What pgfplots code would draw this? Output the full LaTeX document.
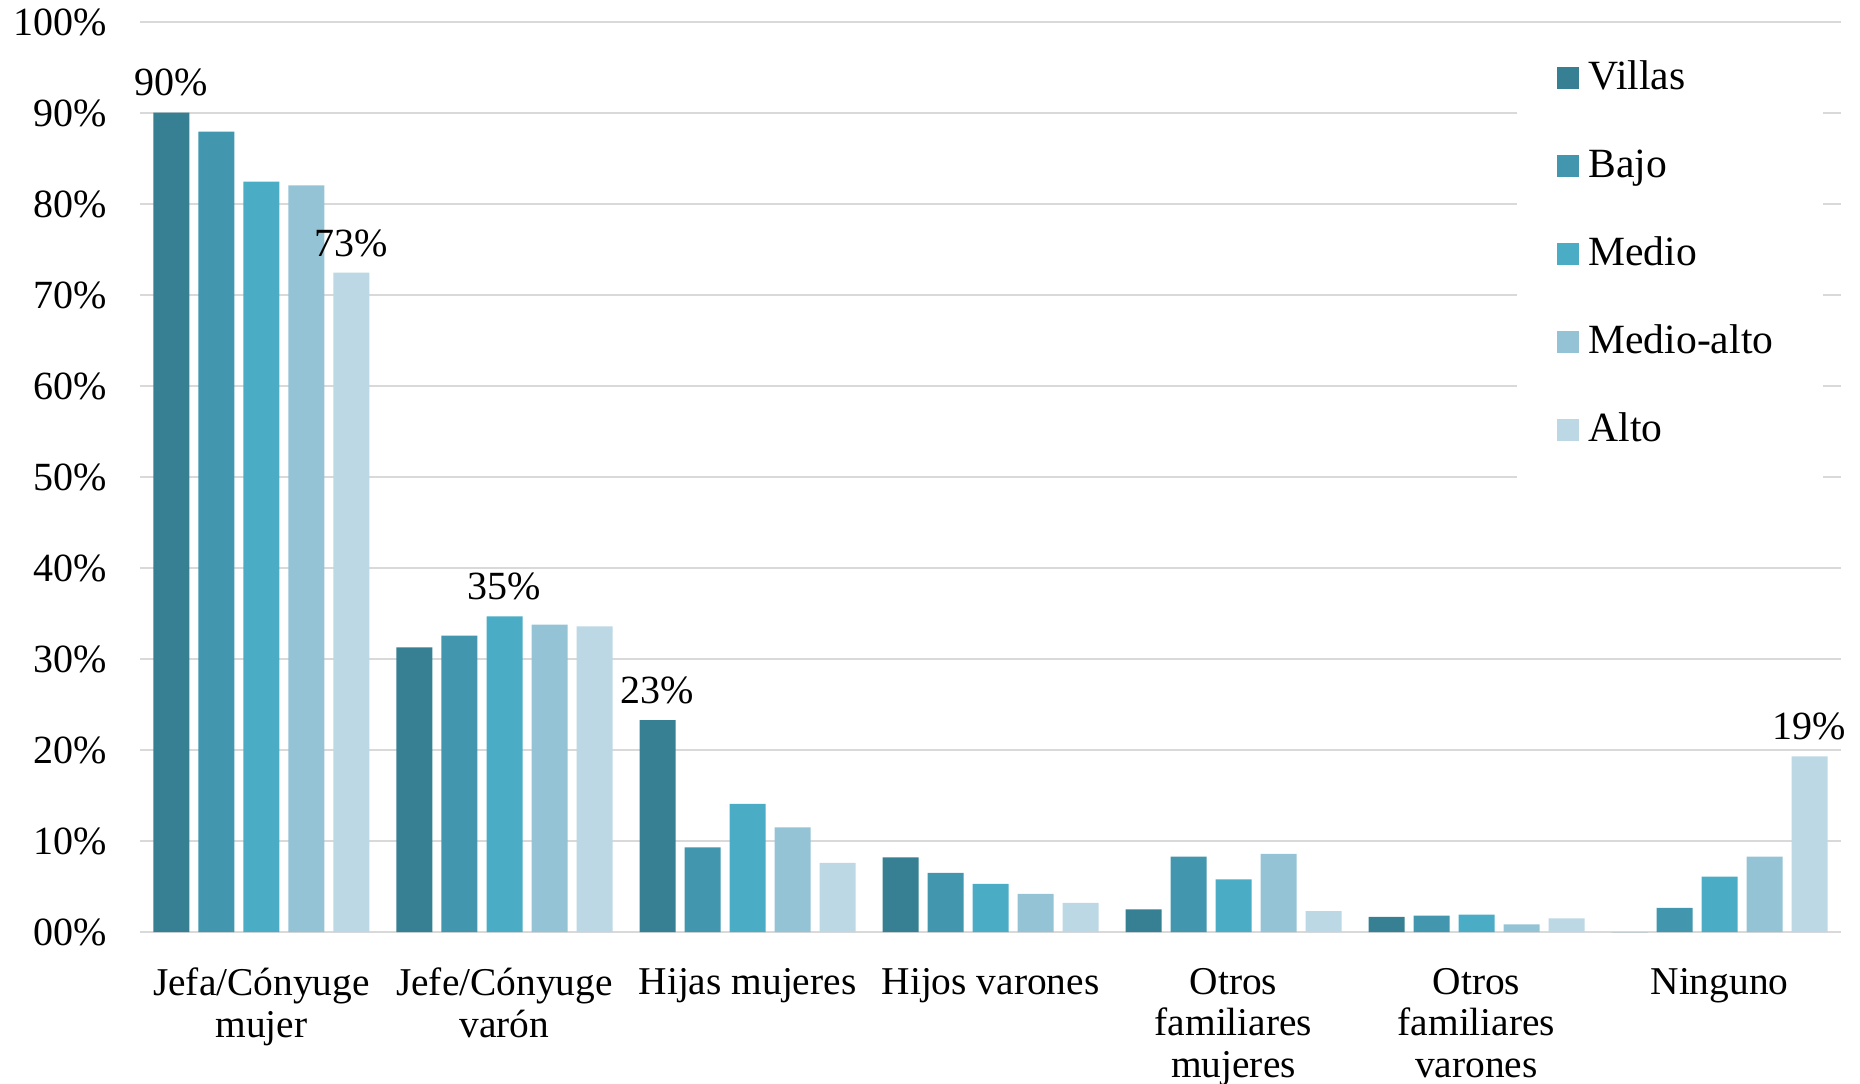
\documentclass[border=0pt]{standalone}
\usepackage{pgfplots}
\pgfplotsset{compat=1.18}
\usepackage{pgfplotstable}
\usepackage{fontspec}
\setmainfont{Liberation Serif}
\definecolor{cVillas}{HTML}{378093}
\definecolor{cBajo}{HTML}{4296AE}
\definecolor{cMedio}{HTML}{4BACC6}
\definecolor{cMalto}{HTML}{93C3D4}
\definecolor{cAlto}{HTML}{BCD8E4}
\definecolor{cGrid}{HTML}{D9D9D9}

\pgfplotstableread{
x y lab
0 90.1 {90\%}
1 31.3 {}
2 23.3 {23\%}
3 8.2 {}
4 2.5 {}
5 1.65 {}
6 0 {}
}\villas
\pgfplotstableread{
x y lab
0 88.0 {}
1 32.6 {}
2 9.3 {}
3 6.5 {}
4 8.3 {}
5 1.8 {}
6 2.65 {}
}\bajo
\pgfplotstableread{
x y lab
0 82.5 {}
1 34.7 {35\%}
2 14.1 {}
3 5.3 {}
4 5.8 {}
5 1.9 {}
6 6.1 {}
}\medio
\pgfplotstableread{
x y lab
0 82.1 {}
1 33.8 {}
2 11.5 {}
3 4.2 {}
4 8.6 {}
5 0.85 {}
6 8.3 {}
}\medioalto
\pgfplotstableread{
x y lab
0 72.5 {73\%}
1 33.6 {}
2 7.6 {}
3 3.2 {}
4 2.3 {}
5 1.5 {}
6 19.3 {19\%}
}\alto

\begin{document}
\begin{tikzpicture}
\begin{axis}[
  name=main,
  at={(0,0)}, anchor=south west,
  width=850.5pt, height=454.75pt, scale only axis,
  ybar=4.5pt, bar width=18pt,
  xmin=-0.5, xmax=6.5, ymin=0, ymax=100,
  axis line style={draw=none},
  ymajorgrids, grid style={cGrid, line width=1pt},
  ytick={0,10,...,100},
  yticklabels={00\%,10\%,20\%,30\%,40\%,50\%,60\%,70\%,80\%,90\%,100\%},
  xtick={0,...,6},
  xticklabels={{Jefa/Cónyuge\\mujer},{Jefe/Cónyuge\\varón},{Hijas mujeres},{Hijos varones},{Otros\\familiares\\mujeres},{Otros\\familiares\\varones},{Ninguno}},
  major tick length=0pt,
  tick label style={font=\fontsize{19.7}{20.9}\selectfont},
  yticklabel style={xshift=-13pt, font=\fontsize{20}{22}\selectfont},
  xticklabel style={align=center, yshift=-14.5pt},
  point meta=explicit symbolic,
  nodes near coords,
  every node near coord/.append style={font=\fontsize{20}{22}\selectfont, yshift=4.5pt, text=black},
  legend style={at={(0.809,0.988)}, anchor=north west, fill=white, draw=none,
    font=\fontsize{20.8}{22}\selectfont, inner xsep=20pt, inner ysep=1pt,
    row sep=0pt,
    nodes={text height=15pt, text depth=5pt, inner ysep=12pt, inner xsep=5pt}},
  legend cell align=left,
  legend image code/.code={\fill[#1] (0pt,-4.4pt) rectangle (11pt,6.6pt);},
]
\addplot[fill=cVillas, draw=none] table[x=x,y=y,meta=lab] {\villas};
\addplot[fill=cBajo, draw=none] table[x=x,y=y,meta=lab] {\bajo};
\addplot[fill=cMedio, draw=none] table[x=x,y=y,meta=lab] {\medio};
\addplot[fill=cMalto, draw=none] table[x=x,y=y,meta=lab] {\medioalto};
\addplot[fill=cAlto, draw=none] table[x=x,y=y,meta=lab] {\alto};
\legend{Villas,Bajo,Medio,Medio-alto,Alto}
\end{axis}
\pgfresetboundingbox
\path[use as bounding box] (-70pt,-75.5pt) rectangle (860pt,466pt);
\end{tikzpicture}
\end{document}
